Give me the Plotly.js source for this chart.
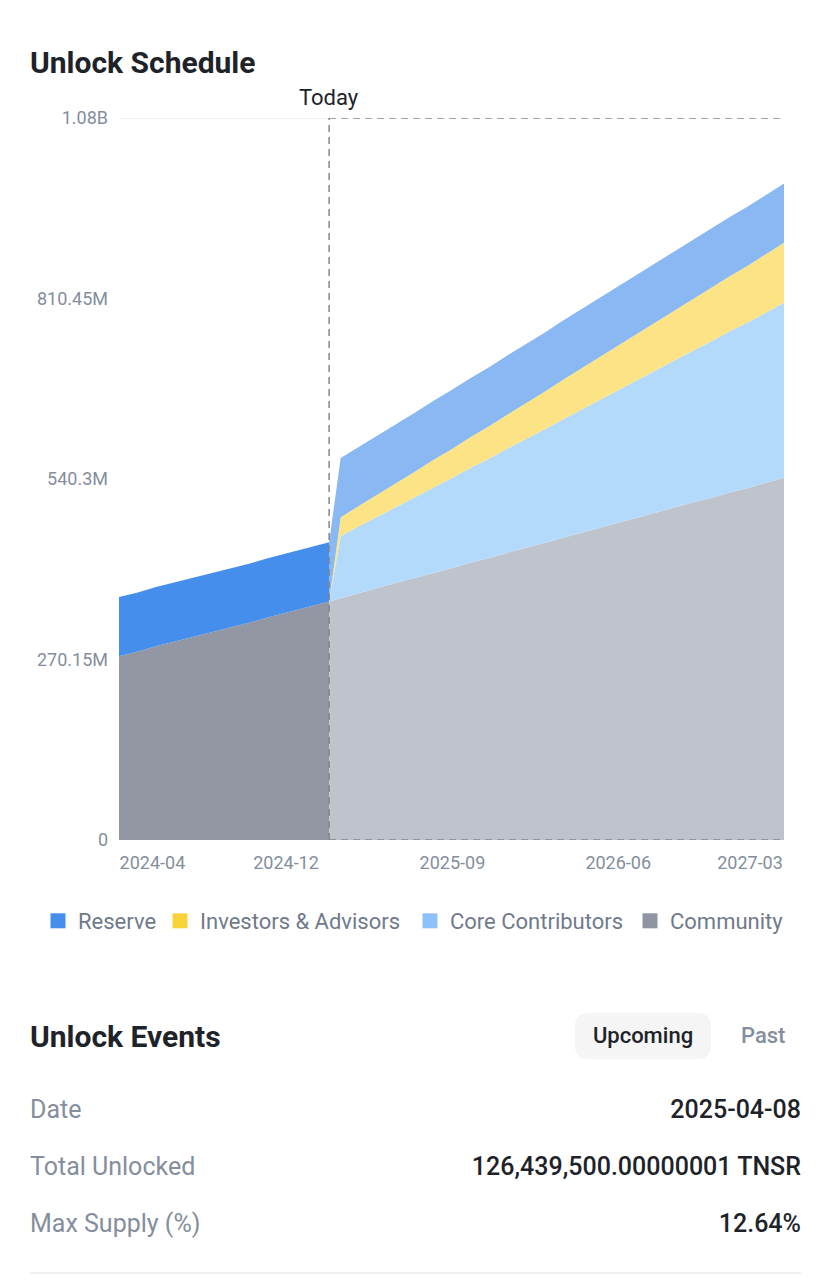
<!DOCTYPE html>
<html>
<head>
<meta charset="utf-8">
<script src="https://cdn.plot.ly/plotly-3.0.1.min.js"></script>
<style>
    body { margin: 0; background: #fff; font-family: Roboto, "Noto Sans", sans-serif; }
    #page { position: relative; width: 831px; height: 1280px; overflow: hidden; background: #fff; }
    #chart { position: absolute; left: 0; top: 0; width: 831px; height: 960px; }
    .tabline { position: absolute; left: 176px; top: 0; width: 155px; height: 3px; background: #EEF0F2; }
    .events-title { position: absolute; left: 30px; top: 1017px; font-size: 30px; font-weight: 700; color: #1E2329; line-height: 40px; }
    .pill { position: absolute; left: 575px; top: 1013px; width: 136px; height: 46px; border-radius: 12px; background: #F5F5F5;
            font-size: 22px; font-weight: 500; color: #1E2329; line-height: 46px; text-align: center; }
    .past { position: absolute; left: 741px; top: 1013px; font-size: 22px; font-weight: 500; color: #848E9C; line-height: 46px; }
    .row { position: absolute; left: 30px; width: 771px; height: 36px; line-height: 36px; font-size: 25px; }
    .row .k { position: absolute; left: 0; color: #848E9C; }
    .row .v { position: absolute; right: 0; color: #1E2329; font-weight: 500; }
    .divider { position: absolute; left: 30px; top: 1272px; width: 771px; height: 2px; background: #EEF0F2; }
</style>
</head>
<body>
<div id="page">
    <div class="tabline"></div>
    <div id="chart"></div>
    <div class="events-title">Unlock Events</div>
    <div class="pill">Upcoming</div>
    <div class="past">Past</div>
    <div class="row" style="top:1092px"><span class="k">Date</span><span class="v" id="evDate"></span></div>
    <div class="row" style="top:1149px"><span class="k">Total Unlocked</span><span class="v" id="evTotal"></span></div>
    <div class="row" style="top:1206px"><span class="k">Max Supply (%)</span><span class="v" id="evPct"></span></div>
    <div class="divider"></div>
</div>
<script>
// Monthly unlock points (plus "today"), values in millions of TNSR
const dates = [
    '2024-03-10', '2024-04-10', '2024-05-10', '2024-06-10', '2024-07-10', '2024-08-10',
    '2024-09-10', '2024-10-10', '2024-11-10', '2024-12-10', '2025-01-10', '2025-02-10',
    '2025-02-19',
    '2025-03-10', '2025-04-10', '2025-05-10', '2025-06-10', '2025-07-10', '2025-08-10',
    '2025-09-10', '2025-10-10', '2025-11-10', '2025-12-10', '2026-01-10', '2026-02-10',
    '2026-03-10', '2026-04-10', '2026-05-10', '2026-06-10', '2026-07-10', '2026-08-10',
    '2026-09-10', '2026-10-10', '2026-11-10', '2026-12-10', '2027-01-10', '2027-02-10',
    '2027-03-10'
];
const todayDate = '2025-02-19';

const community = [
    275, 282, 290, 297, 304, 311, 318, 325, 333, 340, 347, 354,
    357,
    362, 370, 377, 385, 392, 400, 407, 415, 422, 430, 437, 445,
    452, 460, 467, 475, 482, 490, 497, 505, 512, 520, 527, 535, 542
];
const coreContributors = [
    0, 0, 0, 0, 0, 0, 0, 0, 0, 0, 0, 0,
    0,
    93, 100, 107, 114, 121, 128, 135, 142, 149, 156, 163, 170,
    177, 184, 191, 198, 205, 213, 220, 227, 234, 241, 248, 255, 262
];
const investors = [
    0, 0, 0, 0, 0, 0, 0, 0, 0, 0, 0, 0,
    0,
    28, 30.5, 33, 35.5, 38, 41, 43.5, 46, 48.5, 51, 54, 56.5,
    59, 61.5, 64, 67, 69.5, 72, 74.5, 77, 80, 82.5, 85, 87.5, 90
];
const reserve = [
    88.6, 88.6, 88.6, 88.6, 88.6, 88.6, 88.6, 88.6, 88.6, 88.6, 88.6, 88.6,
    88.6,
    88.6, 88.6, 88.6, 88.6, 88.6, 88.6, 88.6, 88.6, 88.6, 88.6, 88.6, 88.6,
    88.6, 88.6, 88.6, 88.6, 88.6, 88.6, 88.6, 88.6, 88.6, 88.6, 88.6, 88.6, 88.6
];

// Axis settings
const yMax = 1080.6;
const xTickDates = ['2024-04-10', '2024-12-10', '2025-09-10', '2026-06-10', '2027-03-10'];

// Next unlock event
const eventDate = '2025-04-08';
const eventTotal = '126,439,500.00000001 TNSR';
const eventPct = '12.64%';

// Stack order, bottom to top
const seriesList = [
    { name: 'Community', values: community, color: '#9297A3', faded: '#BFC3CB', legend: '#8F95A1' },
    { name: 'Core Contributors', values: coreContributors, color: '#8DC1F9', faded: '#B4DAFB', legend: '#8DC1F9' },
    { name: 'Investors & Advisors', values: investors, color: '#F8D33A', faded: '#FCE486', legend: '#F8D33A' },
    { name: 'Reserve', values: reserve, color: '#468EEC', faded: '#8AB8F2', legend: '#468EEC' }
];

// Legend swatch centres (px), top of stack first
const legendX = [58, 180, 430, 650];

const todayIdx = dates.indexOf(todayDate);

function formatAmount(v) {
    if (v >= 1000) return parseFloat((v / 1000).toFixed(2)) + 'B';
    if (v === 0) return '0';
    return parseFloat(v.toFixed(2)) + 'M';
}

function areaTrace(series, past) {
    const x = past ? dates.slice(0, todayIdx + 1) : dates.slice(todayIdx);
    const y = past ? series.values.slice(0, todayIdx + 1) : series.values.slice(todayIdx);
    return {
        x: x,
        y: y,
        type: 'scatter',
        mode: 'lines',
        stackgroup: past ? 'past' : 'future',
        line: { width: 0, shape: 'linear' },
        fillcolor: past ? series.color : series.faded,
        showlegend: false,
        hoverinfo: 'skip'
    };
}

function drawChart() {
    var traces = [];
    seriesList.forEach(s => traces.push(areaTrace(s, true)));
    seriesList.forEach(s => traces.push(areaTrace(s, false)));

    var layout = {
        width: 831,
        height: 960,
        margin: { l: 119, r: 47, t: 118, b: 120, autoexpand: false },
        paper_bgcolor: '#fff',
        plot_bgcolor: '#fff',
        font: { family: 'Roboto, sans-serif', color: '#848E9C' },
        title: {
            text: 'Unlock Schedule',
            xref: 'container', yref: 'container',
            x: 30 / 831, xanchor: 'left',
            y: 1 - 62 / 960, yanchor: 'middle',
            font: { size: 30, weight: 700, color: '#1E2329' }
        },
        showlegend: true
    };

    // One small legend per series so the row never wraps
    seriesList.slice().reverse().forEach((s, i) => {
        const legendId = i === 0 ? 'legend' : 'legend' + (i + 1);
        traces.push({
            x: [null], y: [null],
            type: 'scatter', mode: 'markers',
            name: s.name,
            legend: legendId,
            marker: { symbol: 'square', size: 15, color: s.legend },
            hoverinfo: 'skip'
        });
        layout[legendId] = {
            xref: 'container', yref: 'container',
            x: (legendX[i] - 20) / 831, xanchor: 'left',
            y: 1 - 921 / 960, yanchor: 'middle',
            font: { size: 22, color: '#707A8A' },
            bgcolor: 'rgba(0,0,0,0)',
            itemwidth: 30
        };
    });

    // Keep edge tick labels inside the plot, like the original
    const start = new Date(dates[0]).getTime();
    const end = new Date(dates[dates.length - 1]).getTime();
    const plotWidth = 831 - 119 - 47;
    const halfLabel = 34 * (end - start) / plotWidth;
    const tickVals = xTickDates.map(d => {
        var t = new Date(d).getTime();
        t = Math.max(start + halfLabel, Math.min(end - halfLabel, t));
        return new Date(t).toISOString().slice(0, 10);
    });
    const tickText = xTickDates.map(d => d.slice(0, 7));

    const yTicks = [0, 1, 2, 3, 4].map(i => yMax * i / 4);

    layout.xaxis = {
        type: 'date',
        range: [dates[0], dates[dates.length - 1]],
        showgrid: false, zeroline: false, showline: false,
        tickmode: 'array', tickvals: tickVals, ticktext: tickText,
        ticks: '', ticklabelstandoff: 10,
        tickfont: { size: 18, color: '#848E9C' },
        fixedrange: true
    };
    layout.yaxis = {
        range: [0, yMax],
        showgrid: false, zeroline: false, showline: false,
        tickmode: 'array', tickvals: yTicks, ticktext: yTicks.map(formatAmount),
        ticks: '', ticklabelstandoff: 10,
        tickfont: { size: 18, color: '#848E9C' },
        fixedrange: true
    };

    const lastDate = dates[dates.length - 1];
    const dashed = { color: '#80868F', width: 1.5, dash: '7px,5px' };
    layout.shapes = [
        { type: 'line', xref: 'x', yref: 'y', x0: dates[0], x1: todayDate, y0: yMax, y1: yMax,
          line: { color: '#E6E8EA', width: 1.5 } },
        { type: 'line', xref: 'x', yref: 'y', x0: todayDate, x1: todayDate, y0: 0, y1: yMax,
          layer: 'above', line: dashed },
        { type: 'line', xref: 'x', yref: 'y', x0: todayDate, x1: lastDate, y0: yMax, y1: yMax,
          layer: 'above', line: dashed },
        { type: 'line', xref: 'x', yref: 'y', x0: todayDate, x1: lastDate, y0: 0, y1: 0,
          layer: 'above', line: dashed }
    ];
    layout.annotations = [
        { x: todayDate, y: yMax, xref: 'x', yref: 'y', text: 'Today', showarrow: false,
          yanchor: 'bottom', yshift: 6, font: { size: 22, color: '#1E2329' } }
    ];

    Plotly.newPlot('chart', traces, layout, { displayModeBar: false, staticPlot: true });
}

drawChart();

document.getElementById('evDate').textContent = eventDate;
document.getElementById('evTotal').textContent = eventTotal;
document.getElementById('evPct').textContent = eventPct;
</script>
</body>
</html>
